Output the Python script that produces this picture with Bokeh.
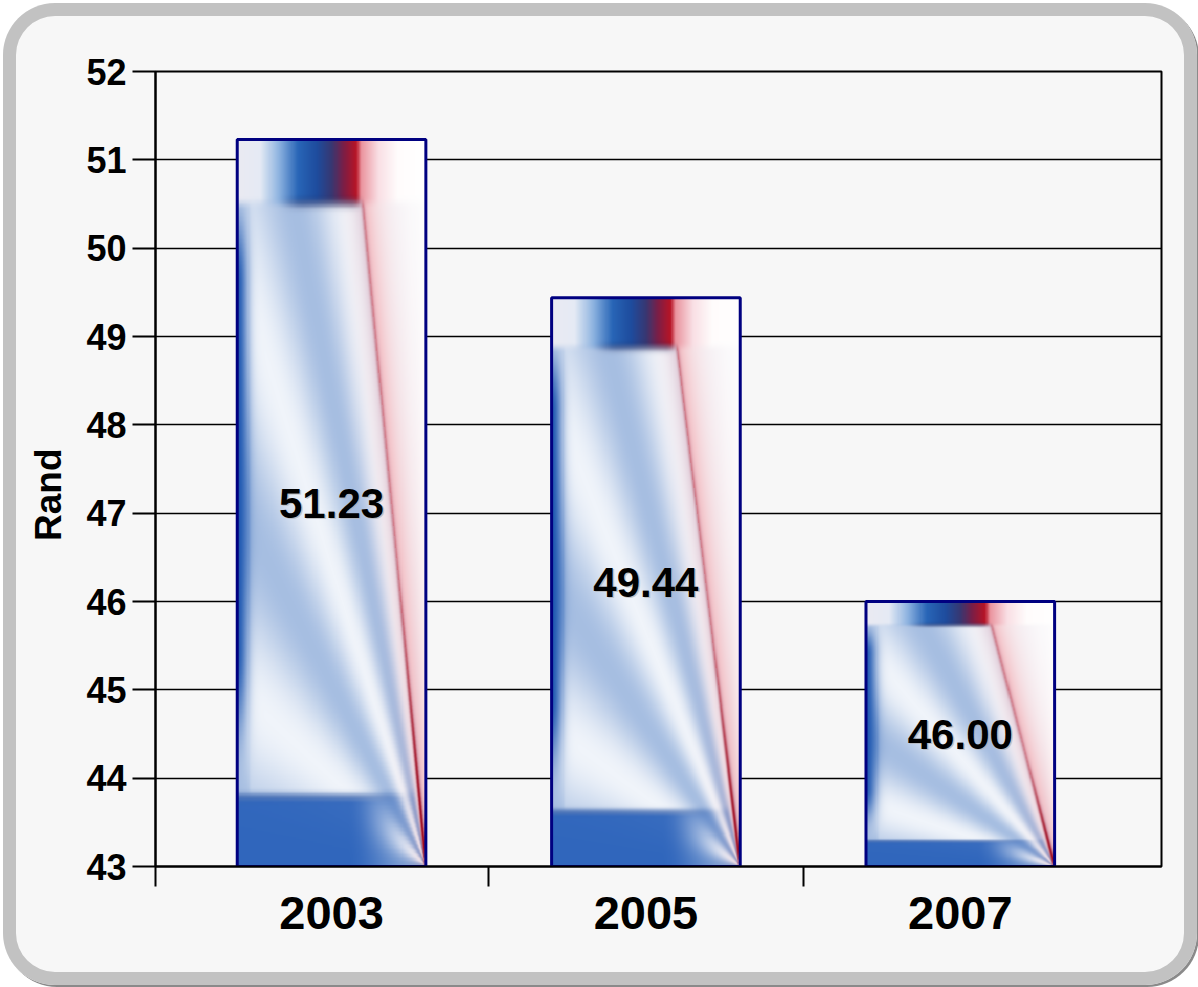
import numpy as np
from bokeh.plotting import figure
from bokeh.models import Range1d, FixedTicker, ColumnDataSource
from bokeh.core.properties import value
from bokeh.embed import file_html
from bokeh.resources import INLINE

# ---- data -------------------------------------------------------------
years = ["2003", "2005", "2007"]
rand = [51.23, 49.44, 46.00]
y_ticks = [43, 44, 45, 46, 47, 48, 49, 50, 51, 52]
y_floor = 43

FONT = "Liberation Sans"
BAR_W = 0.6
X_START, X_END = -0.56, 2.64


def smoothstep(e0, e1, x):
    t = np.clip((x - e0) / (e1 - e0), 0.0, 1.0)
    return t * t * (3 - 2 * t)


def bar_texture(nx=180, ny=560):
    """Glossy blue/red fill used inside every bar (row 0 = bottom)."""
    u = np.linspace(0, 1, nx)[None, :]
    v = np.linspace(0, 1, ny)[:, None]
    rgb = np.ones((ny, nx, 3))

    def over(col, a):
        a = np.clip(np.broadcast_to(a, (ny, nx)), 0, 1)[..., None]
        col = np.broadcast_to(np.asarray(col, dtype=float), (ny, nx, 3))
        rgb[:] = rgb * (1 - a) + col * a

    ul = 0.63 + 0.37 * (1 - v)          # red diagonal position per row
    d = u - ul
    left_of_line = smoothstep(0.03, -0.01, d)

    # broad rays fanning out of the lower right corner
    phi = np.arctan2(v, 1.0 - u + 1e-4)
    rays = 0.5 + 0.5 * np.cos(phi * 14.0 - 0.2)
    inner = (smoothstep(0.05, 0.075, u) * smoothstep(0.95, 0.92, u)
             * smoothstep(0.09, 0.11, v) * smoothstep(0.925, 0.905, v))
    a_fan = (0.08 + 0.40 * rays) * (1.15 - 0.3 * inner) * (0.08 + 0.92 * left_of_line)
    over((0.15, 0.38, 0.72), a_fan)

    # strong band along the left edge
    a_left = 0.95 * np.exp(-(u / 0.055) ** 2) * smoothstep(0.08, 0.3, v) * smoothstep(0.97, 0.8, v)
    over((0.10, 0.33, 0.69), a_left)

    # dark base band that fades into the fan near the corner
    a_bot = 0.92 * smoothstep(0.105, 0.085, v) * smoothstep(0.03, 0.42, 1 - u)
    over((0.16, 0.38, 0.73), a_bot)
    a_edge = 0.3 * np.exp(-((v - 0.095) / 0.006) ** 2) * smoothstep(0.05, 0.4, 1 - u)
    over((0.10, 0.25, 0.55), a_edge)

    # red diagonal running down to the lower right corner
    a_wash = np.where(d > 0, 0.6 * np.exp(-d / 0.08), 0.3 * np.exp(d / 0.05))
    over((0.92, 0.50, 0.54), a_wash)
    a_line = np.exp(-(d / 0.009) ** 2) * (0.3 + 0.7 * smoothstep(0.45, 0.0, v))
    over((0.62, 0.04, 0.12), a_line)

    # coloured cap along the top
    su = [0.0, 0.12, 0.22, 0.32, 0.42, 0.50, 0.56, 0.63, 0.655, 0.75, 0.85, 1.0]
    sr = [0.92, 0.90, 0.55, 0.16, 0.12, 0.22, 0.48, 0.72, 0.92, 0.98, 1.0, 1.0]
    sg = [0.92, 0.92, 0.70, 0.40, 0.30, 0.22, 0.12, 0.08, 0.58, 0.88, 0.99, 1.0]
    sb = [0.95, 0.96, 0.88, 0.72, 0.62, 0.45, 0.28, 0.15, 0.62, 0.90, 0.99, 1.0]
    uu = u[0]
    ramp = np.stack([np.interp(uu, su, sr), np.interp(uu, su, sg), np.interp(uu, su, sb)], axis=-1)[None, :, :]
    over(ramp, smoothstep(0.903, 0.922, v))
    a_sh = 0.35 * np.exp(-((v - 0.912) / 0.008) ** 2) * smoothstep(0.2, 0.35, u) * smoothstep(0.68, 0.6, u)
    over((0.10, 0.14, 0.35), a_sh)

    img = np.empty((ny, nx), dtype=np.uint32)
    view = img.view(dtype=np.uint8).reshape((ny, nx, 4))
    view[..., :3] = np.clip(rgb * 255, 0, 255).astype(np.uint8)
    view[..., 3] = 255
    return img


xs = list(range(len(years)))
tex = bar_texture()
src = ColumnDataSource(dict(
    x=xs,
    left=[x - BAR_W / 2 for x in xs],
    top=rand,
    height=[r - y_floor for r in rand],
    mid=[(r + y_floor) / 2 for r in rand],
    label=["{:.2f}".format(r) for r in rand],
    img=[tex for _ in xs],
))

# rounded grey panel: the canvas is transparent, the panel is painted by the host element
p = figure(
    width=1194, height=982,
    x_range=Range1d(X_START, X_END), y_range=Range1d(y_floor, y_ticks[-1]),
    output_backend="svg", toolbar_location=None,
    min_border_left=152, min_border_right=36, min_border_top=68, min_border_bottom=119,
    background_fill_color="#f7f7f7", border_fill_alpha=0,
    outline_line_color="black", outline_line_width=2,
    styles={
        "border-radius": "52px",
        "background-color": "#f7f7f7",
        "box-shadow": "inset 0 0 0 13px #c2c2c2, 2px 2px 0px #8a8a8a",
        "margin": "3px",
    },
)

# grid
p.xgrid.visible = False
p.ygrid.grid_line_color = "black"
p.ygrid.grid_line_width = 1.5
p.ygrid.ticker = FixedTicker(ticks=y_ticks)

# y axis (non-breaking spaces push the centred title a little below the middle)
p.yaxis.ticker = FixedTicker(ticks=y_ticks)
p.yaxis.axis_label = "Rand" + "\u00a0" * 5
p.yaxis.axis_label_text_font = FONT
p.yaxis.axis_label_text_font_style = "bold"
p.yaxis.axis_label_text_font_size = "37px"
p.yaxis.axis_label_text_color = "black"
p.yaxis.axis_label_standoff = 14
p.yaxis.major_label_text_font = FONT
p.yaxis.major_label_text_font_style = "bold"
p.yaxis.major_label_text_font_size = "36px"
p.yaxis.major_label_text_color = "black"
p.yaxis.major_label_standoff = 6
p.yaxis.major_tick_in = 0
p.yaxis.major_tick_out = 23
p.yaxis.major_tick_line_width = 2
p.yaxis.major_tick_line_color = "black"
p.yaxis.minor_tick_line_color = None
p.yaxis.axis_line_width = 2
p.yaxis.axis_line_color = "black"

# x axis: year labels under each bar, separators between categories
p.xaxis.ticker = FixedTicker(ticks=xs, minor_ticks=[X_START, 0.5, 1.5])
p.xaxis.major_label_overrides = {x: y for x, y in zip(xs, years)}
p.xaxis.major_label_text_font = FONT
p.xaxis.major_label_text_font_style = "bold"
p.xaxis.major_label_text_font_size = "47px"
p.xaxis.major_label_text_color = "black"
p.xaxis.major_label_standoff = 10
p.xaxis.major_tick_in = 0
p.xaxis.major_tick_out = 0
p.xaxis.major_tick_line_color = None
p.xaxis.minor_tick_in = 0
p.xaxis.minor_tick_out = 20
p.xaxis.minor_tick_line_width = 2
p.xaxis.minor_tick_line_color = "black"
p.xaxis.axis_line_width = 2
p.xaxis.axis_line_color = "black"

# bars: textured fill plus navy frame
p.image_rgba(image="img", x="left", y=y_floor, dw=BAR_W, dh="height", source=src)
p.vbar(x="x", top="top", bottom=y_floor, width=BAR_W, fill_color=None,
       line_color="#000080", line_width=3, source=src)

# value labels with a soft drop shadow
p.text(x="x", y="mid", text="label", source=src, x_offset=1.5, y_offset=1.5,
       text_font=value(FONT), text_font_style="bold", text_font_size="42px",
       text_align="center", text_baseline="middle", text_color="#b0b0b0", text_alpha=0.7)
p.text(x="x", y="mid", text="label", source=src,
       text_font=value(FONT), text_font_style="bold", text_font_size="42px",
       text_align="center", text_baseline="middle", text_color="black")

open("out.html", "w").write(file_html(p, INLINE))
